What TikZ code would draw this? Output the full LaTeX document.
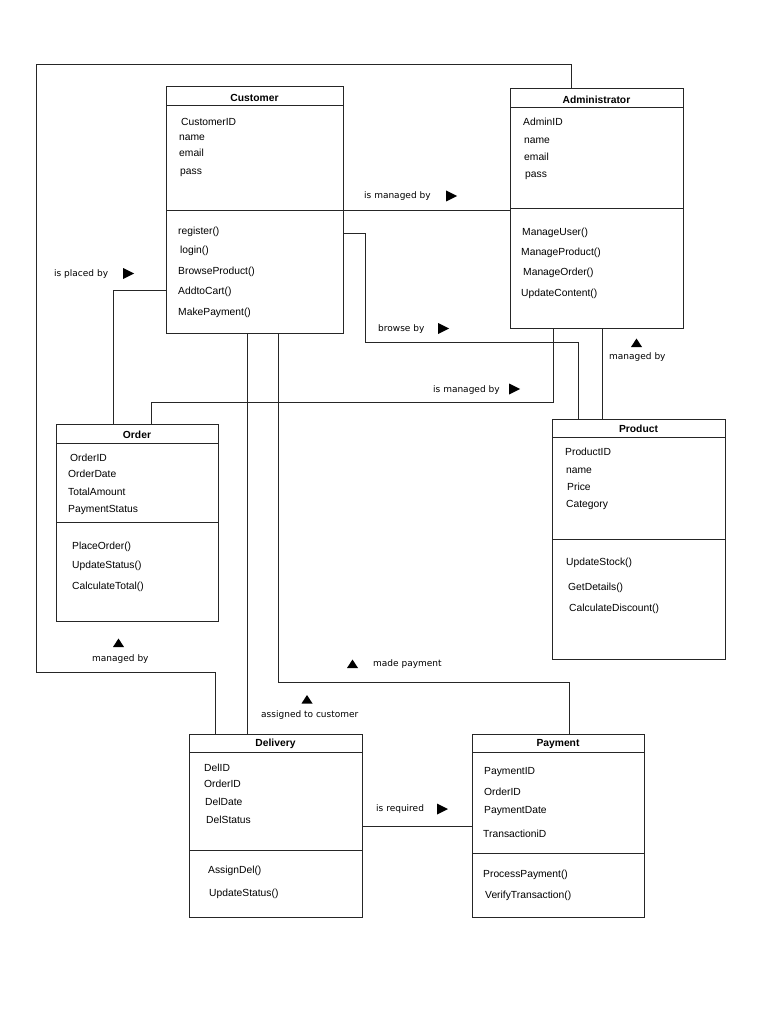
\documentclass[tikz,border=0pt]{standalone}
\usepackage{fontspec}
\setmainfont{Liberation Sans}
\newfontfamily\lblfont{DejaVu Sans}
\usetikzlibrary{fit,calc}
\tikzset{
  cls/.style={draw=black!85, line width=1pt, inner sep=0pt, outer sep=0pt},
  clsline/.style={draw=black!85, line width=1pt},
  conn/.style={draw=black!85, line width=0.9pt},
  hdr/.style={inner sep=0pt, yshift=-1pt, font=\fontsize{10.3}{12}\selectfont\bfseries},
  itm/.style={anchor=west, inner sep=0pt, yshift=-1.3pt, font=\fontsize{10.3}{12}\selectfont},
  lbl/.style={anchor=west, inner sep=0pt, yshift=-1.5pt, font=\lblfont\fontsize{9}{11}\selectfont},
}
\newcommand\umlclass[8]{%
  \node[cls, fit={(#2,#3) (#4,#5)}] (#1) {};
  \draw[clsline] (#1.west |- 0,#6) -- (#1.east |- 0,#6);
  \draw[clsline] (#1.west |- 0,#7) -- (#1.east |- 0,#7);
  \node[hdr] (#1-title) at ({(#2+#4)/2},{(#3+#6)/2}) {#8};
}
\newcommand\rtri[2]{\fill[black] (#1,#2-5.5) -- (#1+11,#2) -- (#1,#2+5.5) -- cycle;}
\newcommand\utri[2]{\fill[black] (#1-5.5,#2+4) -- (#1,#2-4.5) -- (#1+5.5,#2+4) -- cycle;}
\begin{document}
\begin{tikzpicture}[x=1pt,y=-1pt]
\useasboundingbox (0,0) rectangle (768,1024);

% classes
\umlclass{cust}{166}{87}{343}{333}{106}{211}{Customer}
\umlclass{adm}{510}{89}{683}{328}{108}{209}{Administrator}
\umlclass{ord}{56}{424}{218}{621}{443}{522}{Order}
\umlclass{prod}{552}{419}{725}{659}{437}{539}{Product}
\umlclass{del}{189}{734}{362}{917}{752}{850}{Delivery}
\umlclass{pay}{472}{734}{644}{917}{752}{853}{Payment}

% items
\foreach \x/\y/\t [count=\i] in {181/121/CustomerID, 179/136/name, 179/152/email, 180/171/pass,
  178/231/register(), 180/250/login(), 178/271/BrowseProduct(), 178/291/AddtoCart(), 178/312/MakePayment()}
  \node[itm] (cust-\i) at (\x,\y) {\t};
\foreach \x/\y/\t [count=\i] in {523/121/AdminID, 524/139/name, 524/156/email, 525/174/pass,
  522/232/ManageUser(), 521/252/ManageProduct(), 523/272/ManageOrder(), 521/293/UpdateContent()}
  \node[itm] (adm-\i) at (\x,\y) {\t};
\foreach \x/\y/\t [count=\i] in {70/457/OrderID, 68/473/OrderDate, 68/491/TotalAmount, 68/509/PaymentStatus,
  72/546/PlaceOrder(), 72/565/UpdateStatus(), 72/586/CalculateTotal()}
  \node[itm] (ord-\i) at (\x,\y) {\t};
\foreach \x/\y/\t [count=\i] in {565/451/ProductID, 566/469/name, 567/486/Price, 566/504/Category,
  566/562/UpdateStock(), 568/587/GetDetails(), 569/608/CalculateDiscount()}
  \node[itm] (prod-\i) at (\x,\y) {\t};
\foreach \x/\y/\t [count=\i] in {204/767/DelID, 204/783/OrderID, 205/801/DelDate, 206/819/DelStatus,
  208/870/AssignDel(), 209/893/UpdateStatus()}
  \node[itm] (del-\i) at (\x,\y) {\t};
\foreach \x/\y/\t [count=\i] in {484/771/PaymentID, 484/791/OrderID, 484/810/PaymentDate, 483/833/TransactioniD,
  483/874/ProcessPayment(), 485/895/VerifyTransaction()}
  \node[itm] (pay-\i) at (\x,\y) {\t};

% connectors
\draw[conn] (571,0 |- adm.north) -- (571,64) -- (36,64) -- (36,672) -- (215,672) -- (215,0 |- del.north);
\draw[conn] (cust.east |- 0,210) -- (adm.west |- 0,210);
\draw[conn] (cust.east |- 0,233) -- (365,233) -- (365,342) -- (578,342) -- (578,0 |- prod.north);
\draw[conn] (553,0 |- adm.south) -- (553,402) -- (151,402) -- (151,0 |- ord.north);
\draw[conn] (cust.west |- 0,290) -- (113,290) -- (113,0 |- ord.north);
\draw[conn] (602,0 |- adm.south) -- (602,0 |- prod.north);
\draw[conn] (247,0 |- cust.south) -- (247,0 |- del.north);
\draw[conn] (278,0 |- cust.south) -- (278,682) -- (569,682) -- (569,0 |- pay.north);
\draw[conn] (del.east |- 0,826) -- (pay.west |- 0,826);

% labels
\node[lbl] (l1) at (54,273) {is placed by};
\node[lbl] (l2) at (364,195) {is managed by};
\node[lbl] (l3) at (378,328) {browse by};
\node[lbl] (l4) at (433,389) {is managed by};
\node[lbl] (l5) at (609,356) {managed by};
\node[lbl] (l6) at (92,658) {managed by};
\node[lbl] (l7) at (373,663) {made payment};
\node[lbl] (l8) at (261,714) {assigned to customer};
\node[lbl] (l9) at (376,808) {is required};

% direction triangles
\rtri{123}{273.5}
\rtri{446}{196}
\rtri{438}{328.5}
\rtri{509}{389}
\rtri{437}{809}
\utri{636.5}{343}
\utri{118.5}{643}
\utri{352.5}{664}
\utri{307}{699.5}
\end{tikzpicture}
\end{document}
